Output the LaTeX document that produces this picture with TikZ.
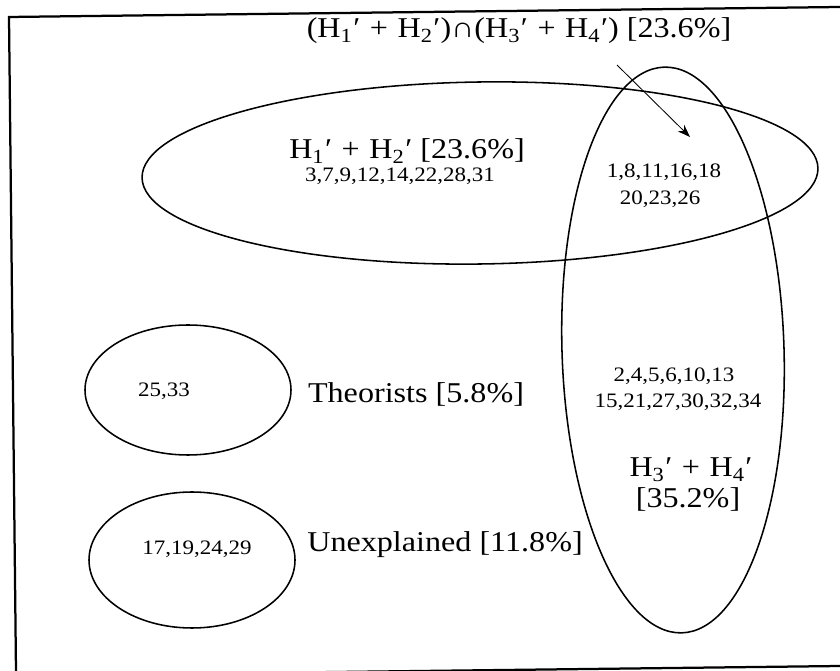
\documentclass[tikz,border=0pt]{standalone}
\usepackage{fontspec}
\setmainfont{Liberation Serif}[FakeStretch=1.12]
\usetikzlibrary{arrows.meta}

\newcommand{\Hp}[1]{H\textsubscript{#1}\kern0.5pt′}
\newcommand{\pl}{\,\,+\,\,}

\begin{document}
\begin{tikzpicture}[
  x=0.025cm, y=0.025cm,
  big/.style={font=\fontsize{20.4}{24}\selectfont, inner sep=0pt, anchor=base},
  nums/.style={font=\fontsize{14.6}{17}\selectfont, inner sep=0pt, anchor=base},
  set/.style={line width=1.1pt},
  arr/.style={-{Stealth[length=9pt, width=6.5pt]}, line width=0.6pt}
]
\useasboundingbox (0,0) rectangle (840,670);

% --- Frame (scanned, slightly tilted) ---
\draw[line width=1.6pt] (840,663) -- (9,653) -- (16,-2);
\draw[line width=1.6pt] (0,-6) -- (840,4);

% --- Sets ---
\draw[set, rotate around={0.8:(480,497)}] (480,497) ellipse [x radius=338, y radius=91];
\draw[set, rotate around={1.8:(673,320)}] (673,320) ellipse [x radius=111, y radius=283];
\draw[set] (188,280) ellipse [x radius=103, y radius=65];
\draw[set] (192,110) ellipse [x radius=103, y radius=68];

% --- Labels ---
\node[big] (inter) at (519,632) {(\Hp1\pl\Hp2)∩(\Hp3\pl\Hp4) [23.6\%]};
\node[big] (h12) at (407,511) {\Hp1\pl\Hp2 [23.6\%]};
\node[nums] (h12ids) at (400,488) {3,7,9,12,14,22,28,31};
\node[nums] (bothids) at (664,492) {1,8,11,16,18};
\node[nums] (bothids2) at (660,465) {20,23,26};

\node[nums] (thids) at (164,273) {25,33};
\node[big] (th) at (416,267) {Theorists [5.8\%]};

\node[nums] (h34ids) at (674,288) {2,4,5,6,10,13};
\node[nums] (h34ids2) at (678,262) {15,21,27,30,32,34};
\node[big] (h34) at (691,193) {\Hp3\pl\Hp4};
\node[big] (h34pc) at (688,162) {[35.2\%]};

\node[nums] (unids) at (197,115) {17,19,24,29};
\node[big] (un) at (445,118) {Unexplained [11.8\%]};

% --- Pointer into the overlap ---
\coordinate (tail) at (617,605);
\coordinate (tip) at (690,533);
\draw[arr] (tail) -- (tip);

\end{tikzpicture}
\end{document}
